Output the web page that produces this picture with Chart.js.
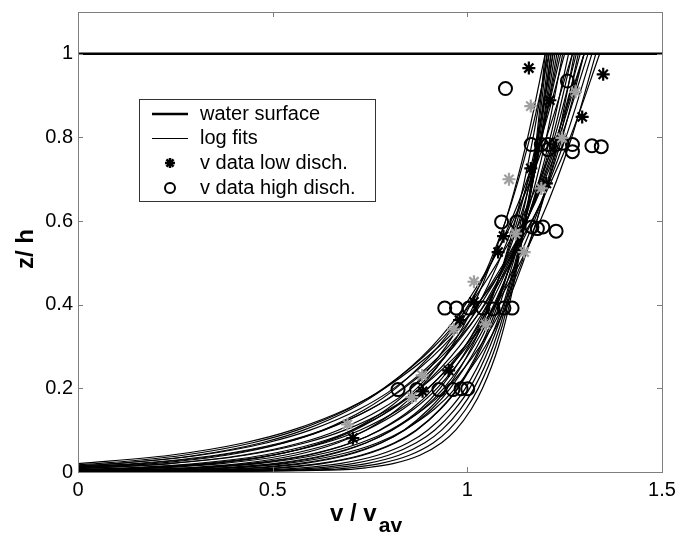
<!DOCTYPE html>
<html>
<head>
<meta charset="utf-8">
<script src="https://cdn.jsdelivr.net/npm/chart.js@4.4.0/dist/chart.umd.min.js"></script>
<style>
html, body { margin: 0; padding: 0; background: #fff; }
canvas { display: block; }
</style>
</head>
<body>
<canvas id="velChart" width="678" height="534"></canvas>
<script>
// axis ticks
const xTicks = [0, 0.5, 1, 1.5];
const yTicks = [0, 0.2, 0.4, 0.6, 0.8, 1];

// water surface
const surfaceV = [0, 1.5];
const surfaceZ = [1, 1];

// log fits: v/v_av read at these heights, each profile starts at v = 0 on fitStartZ
const fitZ = [0.005, 0.01, 0.02, 0.04, 0.07, 0.1, 0.15, 0.2, 0.3, 0.4, 0.6, 0.8, 1];
const fitStartZ = [0.02, 0.0146, 0.0113, 0.0084, 0.006, 0.004, 0.0025, 0.0014, 0.0007, 0.0004, 0.0002,
    0.0001, 0.00004, 0.00002, 0.00001, 0.0087, 0.0022, 0.0046, 0.0025, 0.0005, 0.0055, 0.0011,
    0.0123, 0.0012, 0.0041, 0.0098, 0.0021, 0.0172, 0.0003, 0.0145];
const fitV = [
    [null, null, null, 0.236, 0.428, 0.550, 0.689, 0.788, 0.927, 1.026, 1.165, 1.264, 1.34],
    [null, null, 0.097, 0.312, 0.486, 0.596, 0.722, 0.811, 0.937, 1.026, 1.152, 1.241, 1.31],
    [null, null, 0.166, 0.366, 0.529, 0.632, 0.75, 0.833, 0.951, 1.034, 1.152, 1.235, 1.30],
    [null, 0.047, 0.234, 0.421, 0.572, 0.668, 0.778, 0.856, 0.965, 1.043, 1.152, 1.23, 1.29],
    [null, 0.129, 0.302, 0.475, 0.615, 0.704, 0.806, 0.878, 0.979, 1.051, 1.152, 1.224, 1.28],
    [0.051, 0.211, 0.37, 0.53, 0.658, 0.74, 0.834, 0.9, 0.993, 1.059, 1.152, 1.219, 1.27],
    [0.147, 0.293, 0.438, 0.584, 0.702, 0.776, 0.862, 0.922, 1.007, 1.068, 1.153, 1.213, 1.26],
    [0.238, 0.37, 0.502, 0.633, 0.74, 0.807, 0.885, 0.939, 1.016, 1.071, 1.148, 1.203, 1.245],
    [0.329, 0.447, 0.565, 0.683, 0.778, 0.839, 0.908, 0.956, 1.025, 1.074, 1.143, 1.192, 1.23],
    [0.404, 0.511, 0.619, 0.726, 0.813, 0.868, 0.931, 0.976, 1.038, 1.083, 1.146, 1.19, 1.225],
    [0.478, 0.575, 0.672, 0.769, 0.848, 0.898, 0.954, 0.995, 1.051, 1.092, 1.148, 1.189, 1.22],
    [0.526, 0.616, 0.706, 0.797, 0.869, 0.916, 0.968, 1.006, 1.058, 1.096, 1.149, 1.186, 1.215],
    [0.574, 0.657, 0.741, 0.824, 0.891, 0.934, 0.982, 1.017, 1.066, 1.1, 1.149, 1.183, 1.21],
    [0.622, 0.698, 0.775, 0.851, 0.913, 0.952, 0.996, 1.028, 1.073, 1.104, 1.149, 1.18, 1.205],
    [0.67, 0.739, 0.809, 0.878, 0.934, 0.97, 1.01, 1.039, 1.08, 1.108, 1.149, 1.178, 1.2],
    [null, 0.041, 0.235, 0.429, 0.585, 0.685, 0.799, 0.879, 0.993, 1.074, 1.187, 1.268, 1.33],
    [0.172, 0.318, 0.463, 0.609, 0.727, 0.801, 0.887, 0.947, 1.032, 1.093, 1.178, 1.238, 1.285],
    [0.021, 0.181, 0.34, 0.5, 0.628, 0.71, 0.804, 0.87, 0.963, 1.029, 1.122, 1.189, 1.24],
    [0.14, 0.279, 0.418, 0.556, 0.668, 0.739, 0.821, 0.878, 0.959, 1.017, 1.098, 1.155, 1.2],
    [0.357, 0.468, 0.579, 0.69, 0.78, 0.837, 0.901, 0.948, 1.012, 1.058, 1.123, 1.169, 1.205],
    [null, 0.149, 0.322, 0.495, 0.635, 0.724, 0.826, 0.898, 0.999, 1.071, 1.172, 1.244, 1.3],
    [0.266, 0.391, 0.516, 0.641, 0.741, 0.805, 0.879, 0.93, 1.003, 1.055, 1.128, 1.18, 1.22],
    [null, null, 0.146, 0.354, 0.522, 0.629, 0.751, 0.837, 0.959, 1.045, 1.167, 1.253, 1.32],
    [0.268, 0.40, 0.532, 0.663, 0.77, 0.837, 0.915, 0.969, 1.046, 1.101, 1.178, 1.233, 1.275],
    [0.044, 0.197, 0.349, 0.502, 0.625, 0.703, 0.793, 0.856, 0.945, 1.008, 1.098, 1.161, 1.21],
    [null, null, 0.194, 0.381, 0.532, 0.628, 0.738, 0.816, 0.925, 1.003, 1.112, 1.19, 1.25],
    [0.175, 0.314, 0.453, 0.591, 0.703, 0.774, 0.856, 0.913, 0.994, 1.052, 1.133, 1.19, 1.235],
    [null, null, 0.048, 0.27, 0.449, 0.563, 0.693, 0.785, 0.915, 1.007, 1.136, 1.229, 1.30],
    [0.42, 0.524, 0.628, 0.732, 0.816, 0.87, 0.93, 0.974, 1.034, 1.078, 1.138, 1.182, 1.215],
    [null, null, 0.096, 0.304, 0.472, 0.579, 0.701, 0.787, 0.909, 0.995, 1.117, 1.203, 1.27]
];

// v data, low discharge (black and grey asterisks)
const lowV = [1.158, 1.349, 1.212, 1.295, 1.163, 1.203, 1.093, 1.079, 1.017, 0.980, 0.952, 0.885, 0.706];
const lowZ = [0.966, 0.951, 0.889, 0.849, 0.726, 0.690, 0.564, 0.526, 0.407, 0.363, 0.243, 0.193, 0.081];
const lowGreyV = [1.163, 1.278, 1.107, 1.243, 1.190, 1.124, 1.146, 1.017, 0.965, 1.047, 0.858, 0.692, 0.884];
const lowGreyZ = [0.875, 0.909, 0.700, 0.799, 0.678, 0.570, 0.526, 0.455, 0.341, 0.353, 0.179, 0.114, 0.231];

// v data, high discharge (circles)
const highV = [1.098, 1.257,
    1.164, 1.190, 1.207, 1.228, 1.244, 1.270, 1.320, 1.344, 1.207, 1.270,
    1.088, 1.127, 1.166, 1.180, 1.194, 1.228,
    0.942, 0.972, 1.004, 1.040, 1.066, 1.094, 1.115,
    0.822, 0.870, 0.927, 0.963, 0.984, 1.001];
const highZ = [0.917, 0.935,
    0.783, 0.783, 0.783, 0.783, 0.786, 0.783, 0.780, 0.778, 0.771, 0.766,
    0.598, 0.598, 0.586, 0.582, 0.586, 0.576,
    0.392, 0.392, 0.392, 0.392, 0.390, 0.392, 0.392,
    0.197, 0.197, 0.197, 0.197, 0.199, 0.199];

const FONT = 'Arial, "Liberation Sans", sans-serif';

function pairs(xs, ys) {
    return xs.map((v, i) => ({ x: v, y: ys[i] }));
}

function fitPoints(row, start) {
    const pts = [{ x: 0, y: start }];
    row.forEach((v, i) => {
        if (v !== null) pts.push({ x: v, y: fitZ[i] });
    });
    return pts;
}

const datasets = [];

datasets.push({
    label: 'water surface',
    data: pairs(surfaceV, surfaceZ),
    borderColor: '#000',
    borderWidth: 2.5,
    pointRadius: 0,
    order: 1
});

fitV.forEach((row, i) => {
    datasets.push({
        label: 'log fits',
        data: fitPoints(row, fitStartZ[i]),
        borderColor: '#000',
        borderWidth: 1.2,
        pointRadius: 0,
        cubicInterpolationMode: 'monotone',
        order: 3
    });
});

datasets.push({
    label: 'v data low disch. (grey)',
    data: pairs(lowGreyV, lowGreyZ),
    showLine: false,
    pointStyle: 'star',
    pointRadius: 6.5,
    pointBorderWidth: 2.2,
    borderColor: '#a0a0a0',
    order: 0
});

datasets.push({
    label: 'v data low disch.',
    data: pairs(lowV, lowZ),
    showLine: false,
    pointStyle: 'star',
    pointRadius: 6.5,
    pointBorderWidth: 2.2,
    borderColor: '#000',
    order: 0
});

datasets.push({
    label: 'v data high disch.',
    data: pairs(highV, highZ),
    showLine: false,
    pointStyle: 'circle',
    pointRadius: 6.5,
    pointBorderWidth: 2,
    borderColor: '#000',
    backgroundColor: 'rgba(0,0,0,0)',
    order: 0
});

// box, inner ticks, legend and axis titles (MATLAB look)
const matlabFrame = {
    id: 'matlabFrame',
    afterDatasetsDraw(chart) {
        const { ctx, chartArea: a, scales } = chart;
        const sx = scales.x, sy = scales.y;
        ctx.save();

        ctx.strokeStyle = '#7f7f7f';
        ctx.lineWidth = 1;
        ctx.strokeRect(a.left + 0.5, a.top + 0.5, a.right - a.left, a.bottom - a.top);
        ctx.beginPath();
        xTicks.forEach(v => {
            const px = Math.round(sx.getPixelForValue(v)) + 0.5;
            ctx.moveTo(px, a.bottom); ctx.lineTo(px, a.bottom - 5);
            ctx.moveTo(px, a.top); ctx.lineTo(px, a.top + 5);
        });
        yTicks.forEach(v => {
            const py = Math.round(sy.getPixelForValue(v)) + 0.5;
            ctx.moveTo(a.left, py); ctx.lineTo(a.left + 5, py);
            ctx.moveTo(a.right, py); ctx.lineTo(a.right - 5, py);
        });
        ctx.stroke();

        // legend
        const lx = 139, ly = 99, lw = 236, lh = 102;
        ctx.fillStyle = '#fff';
        ctx.fillRect(lx, ly, lw, lh);
        ctx.strokeStyle = '#333';
        ctx.strokeRect(lx + 0.5, ly + 0.5, lw, lh);

        ctx.strokeStyle = '#000';
        ctx.lineWidth = 2.5;
        ctx.beginPath(); ctx.moveTo(152, 114); ctx.lineTo(188, 114); ctx.stroke();
        ctx.lineWidth = 1;
        ctx.beginPath(); ctx.moveTo(152, 138.5); ctx.lineTo(188, 138.5); ctx.stroke();

        ctx.lineWidth = 2.5;
        ctx.beginPath();
        const r = 5;
        for (let k = 0; k < 4; k++) {
            const ang = k * Math.PI / 4;
            ctx.moveTo(170 - r * Math.cos(ang), 163 - r * Math.sin(ang));
            ctx.lineTo(170 + r * Math.cos(ang), 163 + r * Math.sin(ang));
        }
        ctx.stroke();
        ctx.lineWidth = 2;
        ctx.beginPath(); ctx.arc(170, 188, 5, 0, Math.PI * 2); ctx.stroke();

        ctx.fillStyle = '#000';
        ctx.font = '20px ' + FONT;
        ctx.textAlign = 'left';
        ctx.textBaseline = 'middle';
        ctx.fillText('water surface', 200, 114);
        ctx.fillText('log fits', 200, 138);
        ctx.fillText('v data low disch.', 200, 163);
        ctx.fillText('v data high disch.', 200, 188);

        // axis titles
        ctx.font = 'bold 24px ' + FONT;
        ctx.textBaseline = 'alphabetic';
        ctx.fillText('v / v', 330, 521);
        const w = ctx.measureText('v / v').width;
        ctx.font = 'bold 21px ' + FONT;
        ctx.fillText('av', 330 + w + 2, 532);

        ctx.translate(33, 249);
        ctx.rotate(-Math.PI / 2);
        ctx.font = 'bold 24px ' + FONT;
        ctx.textAlign = 'center';
        ctx.fillText('z/ h', 0, 0);
        ctx.restore();
    }
};

const tickFont = { family: FONT, size: 20 };

new Chart(document.getElementById('velChart').getContext('2d'), {
    type: 'line',
    data: { datasets: datasets },
    options: {
        responsive: false,
        animation: false,
        devicePixelRatio: 1,
        events: [],
        layout: { padding: { left: 0, right: 16, top: 12, bottom: 0 } },
        plugins: {
            legend: { display: false },
            tooltip: { enabled: false }
        },
        scales: {
            x: {
                type: 'linear',
                min: 0,
                max: 1.5,
                grid: { display: false, drawTicks: false },
                border: { display: false },
                afterBuildTicks: s => { s.ticks = xTicks.map(v => ({ value: v })); },
                afterFit: s => { s.height = 62; s.paddingLeft = 0; s.paddingRight = 0; },
                ticks: { padding: 6, color: '#000', font: tickFont, maxRotation: 0, autoSkip: false, callback: v => String(v) }
            },
            y: {
                type: 'linear',
                min: 0,
                max: 1.1,
                grid: { display: false, drawTicks: false },
                border: { display: false },
                afterBuildTicks: s => { s.ticks = yTicks.map(v => ({ value: v })); },
                afterFit: s => { s.width = 78; s.paddingTop = 0; s.paddingBottom = 0; },
                ticks: { padding: 5, color: '#000', font: tickFont, autoSkip: false, callback: v => String(v) }
            }
        }
    },
    plugins: [matlabFrame]
});
</script>
</body>
</html>
